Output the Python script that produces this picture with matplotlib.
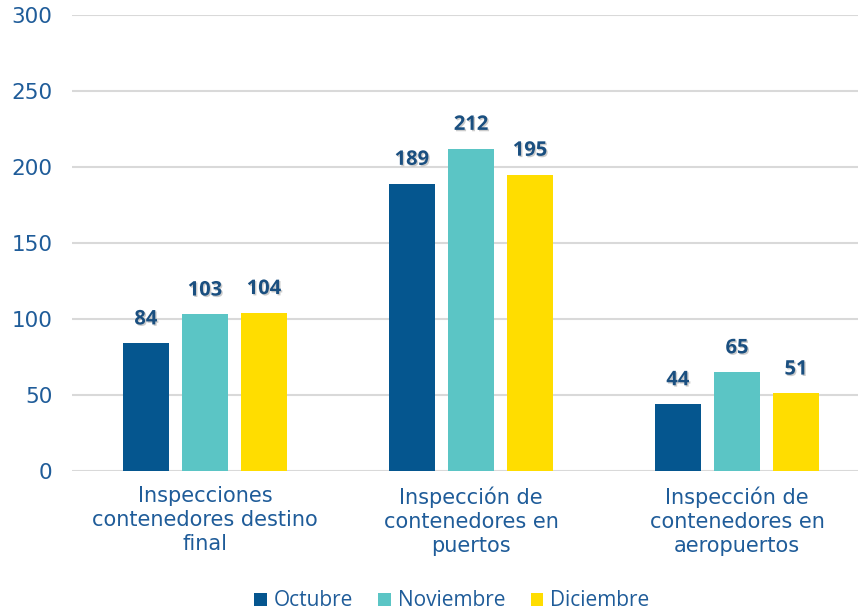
import matplotlib

matplotlib.use("Agg")
import matplotlib.pyplot as plt
import matplotlib.patheffects as pe
import numpy as np

categories = [
    "Inspecciones\ncontenedores destino\nfinal",
    "Inspección de\ncontenedores en\npuertos",
    "Inspección de\ncontenedores en\naeropuertos",
]
series_names = ["Octubre", "Noviembre", "Diciembre"]
octubre = [84, 189, 44]
noviembre = [103, 212, 65]
diciembre = [104, 195, 51]
y_ticks = [0, 50, 100, 150, 200, 250, 300]

colors = ["#05568F", "#5BC5C5", "#FFDD00"]
text_blue = "#1F5C99"
label_blue = "#1A4F80"

plt.rcParams["font.family"] = ["DejaVu Sans"]

fig = plt.figure(figsize=(8.59, 6.15), dpi=100)
ax = fig.add_axes([72 / 859, 144 / 615, 786 / 859, 456 / 615])

x = np.arange(len(categories))
width = 0.173
step = 0.222
for i, (name, vals) in enumerate(zip(series_names, [octubre, noviembre, diciembre])):
    pos = x + (i - 1) * step
    bars = ax.bar(pos, vals, width=width, color=colors[i], label=name, zorder=3)
    for b, v in zip(bars, vals):
        ax.annotate(
            str(v), (b.get_x() + b.get_width() / 2, v),
            xytext=(0, 10), textcoords="offset points",
            ha="center", va="bottom", fontsize=14.5, fontweight="bold",
            family=["Open Sans", "DejaVu Sans"], color=label_blue,
            path_effects=[pe.withSimplePatchShadow(offset=(1, -1), shadow_rgbFace="#999999", alpha=0.5)],
        )

ax.set_ylim(0, 300)
ax.set_xlim(-0.5, -0.5 + 786 / 266)
ax.set_yticks(y_ticks)
ax.set_xticks(x)
ax.set_xticklabels(categories, fontsize=15, color=text_blue, linespacing=1.25)
ax.tick_params(axis="y", labelsize=15.5, labelcolor=text_blue, length=0, pad=14)
ax.tick_params(axis="x", length=0, pad=11)
ax.grid(axis="y", color="#D9D9D9", linewidth=1.5, zorder=0)
for s in ax.spines.values():
    s.set_visible(False)

fig.legend(
    loc="center", bbox_to_anchor=(452 / 859, 14 / 615), ncol=3, frameon=False,
    prop={"family": ["Open Sans", "DejaVu Sans"], "size": 15},
    labelcolor=text_blue, handlelength=0.6, handleheight=0.6,
    handletextpad=0.35, columnspacing=1.2,
)

fig.savefig("out.png", dpi=100)
